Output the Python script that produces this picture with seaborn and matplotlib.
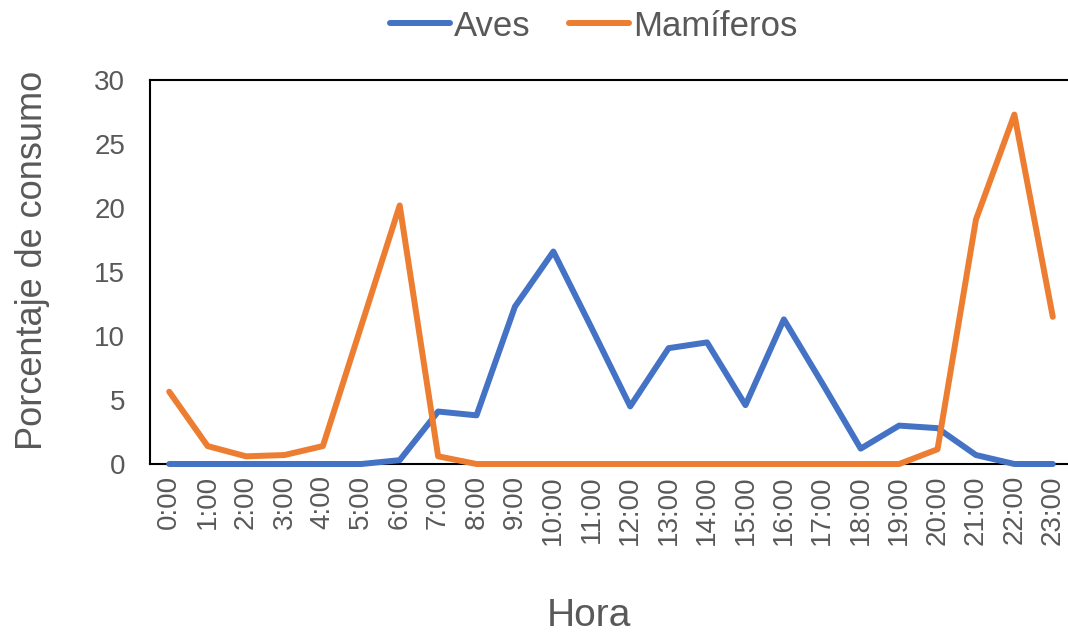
import matplotlib
matplotlib.use("Agg")
import matplotlib.pyplot as plt
import seaborn as sns
import pandas as pd
from matplotlib.lines import Line2D

horas = [f"{h}:00" for h in range(24)]
aves = [0, 0, 0, 0, 0, 0, 0.3, 4.1, 3.8, 12.3, 16.6, 10.6, 4.5, 9.05, 9.5, 4.6,
        11.3, 6.3, 1.2, 3.0, 2.8, 0.7, 0, 0]
mamiferos = [5.65, 1.4, 0.6, 0.7, 1.4, 10.8, 20.2, 0.6, 0, 0, 0, 0, 0, 0, 0, 0,
             0, 0, 0, 0, 1.15, 19.1, 27.3, 11.5]
series = ["Aves", "Mamíferos"]
colores = ["#4472C4", "#ED7D31"]

df = pd.DataFrame({
    "Hora": horas * 2,
    "Valor": aves + mamiferos,
    "Grupo": [series[0]] * len(horas) + [series[1]] * len(horas),
})

sns.set_theme(style="white")
plt.rcParams["font.family"] = ["Liberation Sans", "DejaVu Sans"]

fig = plt.figure(figsize=(10.68, 6.37), dpi=100)
W, H = 1068, 637
left, right, top, bottom = 150, 1072, 80, 464
ax = fig.add_axes([left / W, 1 - bottom / H, (right - left) / W, (bottom - top) / H])

sns.lineplot(data=df, x="Hora", y="Valor", hue="Grupo", palette=colores,
             sort=False, linewidth=4.3, ax=ax, legend=False)
for ln in ax.lines:
    ln.set_solid_capstyle("round")
    ln.set_solid_joinstyle("round")
    ln.set_clip_on(False)

ax.set_xlim(-0.5, 23.5)
ax.set_ylim(0, 30)
ax.set_yticks([0, 5, 10, 15, 20, 25, 30])
ax.set_xticks(range(len(horas)))
ax.set_xticklabels(horas, rotation=90)
ax.tick_params(axis="both", length=0, labelsize=20, labelcolor="#595959")
ax.tick_params(axis="y", pad=18)
ax.tick_params(axis="x", pad=8)

for s in ["left", "top", "bottom"]:
    ax.spines[s].set_color("black")
    ax.spines[s].set_linewidth(1.5)
ax.spines["right"].set_visible(False)
ax.spines["bottom"].set_zorder(0.5)

ax.set_ylabel("Porcentaje de consumo", fontsize=26, color="#595959")
ax.yaxis.set_label_coords(-0.108, 0.53)
ax.set_xlabel("Hora", fontsize=28, color="#595959")
ax.xaxis.set_label_coords(0.476, -0.349)

handles = [Line2D([0], [0], color=c, lw=4.3, solid_capstyle="round") for c in colores]
leg = fig.legend(handles, series, loc="center", bbox_to_anchor=(593.5 / W, 1 - 26 / H),
                 ncol=2, frameon=False, fontsize=25, handlelength=1.75,
                 handletextpad=0.1, columnspacing=1.1, labelcolor="#595959")

fig.savefig("out.png", dpi=100)
